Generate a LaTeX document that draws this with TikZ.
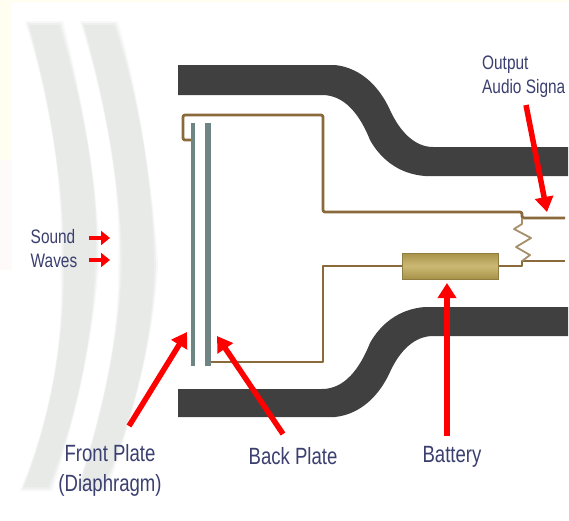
\documentclass[tikz,border=0pt]{standalone}
\usepackage{fontspec}
\setmainfont{Liberation Sans}
\usetikzlibrary{arrows.meta}
\definecolor{bandc}{HTML}{404040}
\definecolor{wirec}{HTML}{8A6A3A}
\definecolor{platec}{HTML}{6F8583}
\definecolor{labelc}{HTML}{3B3F6F}
\definecolor{wavec}{HTML}{E7EAE7}
\definecolor{wavee}{HTML}{EEF0EE}
\definecolor{wavef}{HTML}{F7F8F7}
\definecolor{batedge}{HTML}{8F7D42}
\definecolor{batdark}{HTML}{A8924A}
\definecolor{batlight}{HTML}{CBB973}
\tikzset{
 band/.style={fill=bandc,draw=none},
 wire/.style={draw=wirec,line width=2.8pt,line join=round},
 plate/.style={fill=platec,draw=none},
 redarrow/.style={draw=red,line width=5.5pt,-{Triangle[length=15pt,width=18pt]}},
 smallred/.style={draw=red,line width=4pt,-{Triangle[length=9pt,width=14pt]}},
 lab/.style={text=labelc,font=\fontsize{23.5}{30}\selectfont,xscale=.79,transform shape,inner sep=0pt,align=center},
 labsmall/.style={text=labelc,font=\fontsize{19.5}{24}\selectfont,xscale=.79,transform shape,inner sep=0pt,align=left},
}
\begin{document}
\begin{tikzpicture}[x=1pt,y=-1pt]
\useasboundingbox (0,0) rectangle (569,520);
\fill[white] (0,0) rectangle (569,520);
\fill[yellow!6] (0,0) rectangle (569,1.5);
\fill[yellow!6] (0,0) rectangle (12,160);
\fill[red!2] (0,160) rectangle (12,270);
% waves
\foreach \c/\e in {wavef/4,wavee/2,wavec/0}{
\fill[\c] (29-\e,25-\e) -- (59+\e,25-\e) .. controls (85,110) and (100,200) .. (95+\e,265) .. controls (92,350) and (72,430) .. (48+\e,487+\e) -- (24-\e,487+\e) .. controls (50,420) and (65,340) .. (64-\e,265) .. controls (65,190) and (50,100) .. (29-\e,25-\e) -- cycle;
\fill[\c] (84-\e,25-\e) -- (114+\e,25-\e) .. controls (140,100) and (153,190) .. (154+\e,265) .. controls (153,350) and (128,430) .. (103+\e,487+\e) -- (80-\e,487+\e) .. controls (100,420) and (120,340) .. (122-\e,265) .. controls (122,190) and (105,100) .. (84-\e,25-\e) -- cycle;
}
% bands
\path[band] (178,65) -- (335,65) .. controls (362,68) and (380,88) .. (390,110) .. controls (400,132) and (415,147) .. (433,147) -- (568,147) -- (568,176) -- (425,176) .. controls (398,174) and (380,158) .. (370,140) .. controls (360,115) and (345,95) .. (322,95) -- (178,95) -- cycle;
\path[band] (178,417) -- (335,417) .. controls (362,414) and (380,394) .. (390,372) .. controls (400,350) and (415,336) .. (433,336) -- (568,336) -- (568,307) -- (425,307) .. controls (398,309) and (380,325) .. (370,343) .. controls (360,368) and (345,389) .. (322,389) -- (178,389) -- cycle;
% wires
\coordinate (f) at (193,140);
\coordinate (b) at (208,362);
\draw[wire,rounded corners=2pt] (f) -- (183,140) -- (183,115) -- (323,115) -- (323,212) -- (522,212) -- (522,218) -- (565,218);
\draw[wire] (b) -- (323,362) -- (323,266) -- (402,266);
\draw[wire] (498,266) -- (522,266) -- (522,261) -- (565,261);
\draw[draw=wirec!75,line width=1.8pt,line join=round] (522,218) -- (522,224) -- (514,229) -- (531,238) -- (516,247) -- (530,255) -- (522,261);
\node[draw=batedge,line width=1pt,minimum width=96pt,minimum height=26pt,inner sep=0pt,top color=batdark,bottom color=batdark,middle color=batlight] (battery) at (450,266) {};
% plates
\fill[plate] (191,123) rectangle (195,366);
\fill[plate] (205,123) rectangle (211,366);
% labels
\node[labsmall] (sw) at (54,249) {Sound\\Waves};
\node[lab] (fp) at (110,470) {Front Plate\\(Diaphragm)};
\node[lab] (bp) at (293,456) {Back Plate};
\node[lab] (bt) at (452,457) {Battery};
\node[labsmall,anchor=north west] (oa) at (482,56) {Output\\Audio Signa};
% arrows
\coordinate (sa1) at (89,238); \coordinate (sb1) at (110,238);
\coordinate (sa2) at (89,260); \coordinate (sb2) at (110,260);
\draw[smallred] (sa1) -- (sb1);
\draw[smallred] (sa2) -- (sb2);
\coordinate (a1) at (129,426); \coordinate (a2) at (187,332);
\coordinate (c1) at (283,434); \coordinate (c2) at (217,336);
\coordinate (d1) at (447,436); \coordinate (d2) at (447,283);
\coordinate (e1) at (526,105); \coordinate (e2) at (547,212);
\draw[redarrow] (a1) -- (a2);
\draw[redarrow] (c1) -- (c2);
\draw[redarrow] (d1) -- (d2);
\draw[redarrow] (e1) -- (e2);
\end{tikzpicture}
\end{document}
